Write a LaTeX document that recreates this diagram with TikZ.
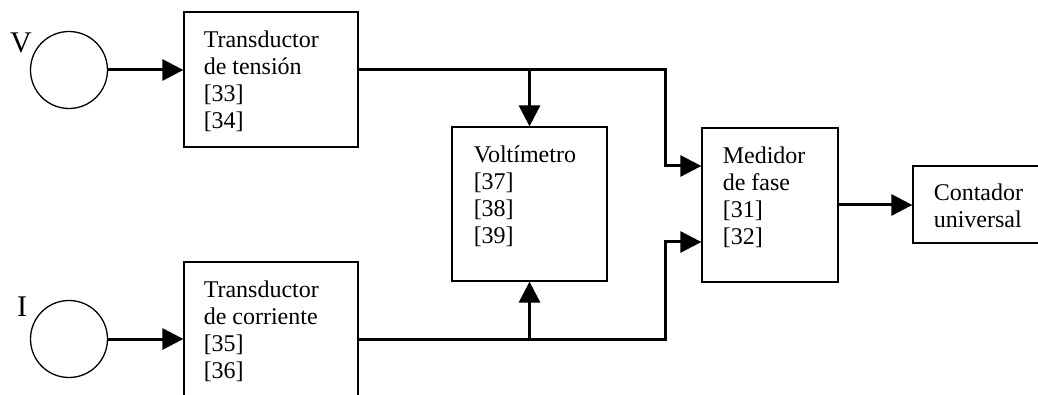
\documentclass[tikz,border=0pt]{standalone}
\usepackage{fontspec}
\setmainfont{Liberation Serif}
\usetikzlibrary{arrows.meta,positioning,calc}

\begin{document}
\begin{tikzpicture}[x=0.5pt,y=-0.5pt,font=\fontsize{12pt}{13.5pt}\selectfont,
  blk/.style={draw,line width=0.65pt,inner sep=0pt},
  src/.style={draw,circle,line width=0.65pt,minimum size=38.5pt,inner sep=0pt},
  txt/.style={anchor=north west,inner sep=0pt,align=left},
  lbl/.style={inner sep=0pt,font=\fontsize{15pt}{18pt}\selectfont},
  sig/.style={line width=1.5pt},
  conn/.style={sig,-{Triangle[length=10.5pt,width=10.5pt]}}]
\useasboundingbox (0,0) rectangle (1038,395);

% sources
\node[src] (vs) at (69,70) {};
\node[lbl] (vlab) at (21,43) {V};
\node[src] (is) at (69,339) {};
\node[lbl] (ilab) at (22,307) {I};

% blocks
\node[blk,minimum width=87pt,minimum height=67.5pt] (tv) at (271,79.5) {};
\node[txt] (tvtext) at ([shift={(20,19)}]tv.north west)
  {Transductor\\de tensión\\{[33]}\\{[34]}};
\node[blk,minimum width=87pt,minimum height=70pt] (ti) at (271,332) {};
\node[txt] (titext) at ([shift={(20,19)}]ti.north west)
  {Transductor\\de corriente\\{[35]}\\{[36]}};
\node[blk,minimum width=77.5pt,minimum height=77pt] (vm) at (529.5,204) {};
\node[txt] (vmtext) at ([shift={(22,19)}]vm.north west)
  {Voltímetro\\{[37]}\\{[38]}\\{[39]}};
\node[blk,minimum width=68pt,minimum height=77pt] (ph) at (770,205) {};
\node[txt] (phtext) at ([shift={(21,19)}]ph.north west)
  {Medidor\\de fase\\{[31]}\\{[32]}};
\node[blk,minimum width=65pt,minimum height=38.5pt] (ct) at (978,204.5) {};
\node[txt] (cttext) at ([shift={(21,18)}]ct.north west)
  {Contador\\universal};

% connectors
\coordinate (bus) at (665,0);
\coordinate (phin1) at ([shift={(0,-39)}]ph.west);
\coordinate (phin2) at ([shift={(0,37)}]ph.west);
\draw[conn] (vs.east) -- (vs.east -| tv.west);
\draw[conn] (is.east) -- (is.east -| ti.west);
\draw[conn] (tv.east |- vs) -| (bus |- phin1) -- (phin1);
\draw[conn] (ti.east |- is) -| (bus |- phin2) -- (phin2);
\draw[conn] (vm.north |- vs) -- (vm.north);
\draw[conn] (vm.south |- is) -- (vm.south);
\draw[conn] (ph.east) -- (ph.east -| ct.west);
\end{tikzpicture}
\end{document}
